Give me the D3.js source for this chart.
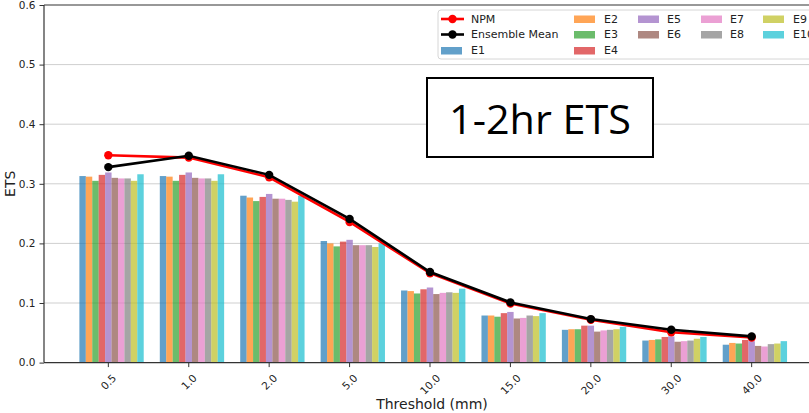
<!DOCTYPE html>
<html>
<head>
<meta charset="utf-8">
<script src="https://cdn.jsdelivr.net/npm/d3@7"></script>
<style>
  body { margin: 0; background: #fff; }
  svg { display: block; font-family: "DejaVu Sans", sans-serif; }
</style>
</head>
<body>
<div id="chart"></div>
<script>
// categories and series
var thresholds = ["0.5", "1.0", "2.0", "5.0", "10.0", "15.0", "20.0", "30.0", "40.0"];
var yTicks = [0.0, 0.1, 0.2, 0.3, 0.4, 0.5, 0.6];

var npm = [0.348, 0.344, 0.311, 0.236, 0.150, 0.099, 0.072, 0.051, 0.042];
var ensMean = [0.328, 0.347, 0.315, 0.241, 0.152, 0.101, 0.073, 0.055, 0.044];

var e1 = [0.313, 0.313, 0.280, 0.204, 0.121, 0.079, 0.055, 0.037, 0.030];
var e2 = [0.312, 0.312, 0.277, 0.200, 0.120, 0.079, 0.056, 0.038, 0.033];
var e3 = [0.305, 0.305, 0.271, 0.195, 0.116, 0.077, 0.056, 0.039, 0.032];
var e4 = [0.315, 0.315, 0.278, 0.203, 0.123, 0.083, 0.062, 0.043, 0.038];
var e5 = [0.319, 0.319, 0.283, 0.206, 0.126, 0.085, 0.062, 0.044, 0.036];
var e6 = [0.310, 0.310, 0.275, 0.197, 0.115, 0.074, 0.052, 0.035, 0.028];
var e7 = [0.309, 0.309, 0.275, 0.197, 0.117, 0.075, 0.054, 0.036, 0.027];
var e8 = [0.309, 0.309, 0.273, 0.197, 0.118, 0.079, 0.055, 0.037, 0.031];
var e9 = [0.305, 0.305, 0.270, 0.194, 0.117, 0.078, 0.056, 0.040, 0.032];
var e10 = [0.316, 0.316, 0.280, 0.200, 0.124, 0.083, 0.060, 0.043, 0.036];

var members = [e1, e2, e3, e4, e5, e6, e7, e8, e9, e10];
var memberNames = ["E1", "E2", "E3", "E4", "E5", "E6", "E7", "E8", "E9", "E10"];
var colors = d3.schemeCategory10;

var svgWidth = 809;
var svgHeight = 413;

var svg = d3.select("#chart")
  .append("svg")
  .attr("width", svgWidth)
  .attr("height", svgHeight);

// plot area edges (right edge runs past the picture, as in the reference)
var plotLeft = 44, plotRight = 816, plotTop = 5, plotBottom = 362.6;

var xScale = d3.scaleLinear().domain([-0.8, 8.8]).range([plotLeft, plotRight]);
var yScale = d3.scaleLinear().domain([0, 0.6]).range([plotBottom, plotTop]);
var barW = 0.08;

// gridlines
svg.append("g")
  .selectAll("line")
  .data(yTicks.slice(1, -1))
  .enter()
  .append("line")
  .attr("x1", plotLeft).attr("x2", plotRight)
  .attr("y1", d => yScale(d)).attr("y2", d => yScale(d))
  .attr("stroke", "#cfcfcf")
  .attr("stroke-width", 1);

// bars
members.forEach(function(series, m) {
  svg.append("g")
    .selectAll("rect")
    .data(series)
    .enter()
    .append("rect")
    .attr("x", (d, i) => xScale(i + (m - 4) * barW - barW / 2))
    .attr("width", xScale(barW) - xScale(0))
    .attr("y", d => yScale(d))
    .attr("height", d => yScale(0) - yScale(d))
    .attr("fill", colors[m])
    .attr("fill-opacity", 0.7);
});

// lines: NPM then Ensemble Mean on top
var line = d3.line().x((d, i) => xScale(i)).y(d => yScale(d));

[[npm, "#ff0000"], [ensMean, "#000000"]].forEach(function(s) {
  svg.append("path")
    .datum(s[0])
    .attr("d", line)
    .attr("fill", "none")
    .attr("stroke", s[1])
    .attr("stroke-width", 2.6);
  svg.append("g")
    .selectAll("circle")
    .data(s[0])
    .enter()
    .append("circle")
    .attr("cx", (d, i) => xScale(i))
    .attr("cy", d => yScale(d))
    .attr("r", 4.2)
    .attr("fill", s[1]);
});

// spines
var spine = "#333";
svg.append("line").attr("x1", plotLeft).attr("x2", plotRight).attr("y1", plotTop).attr("y2", plotTop)
  .attr("stroke", spine).attr("stroke-width", 1.2);
svg.append("line").attr("x1", plotLeft).attr("x2", plotRight).attr("y1", plotBottom).attr("y2", plotBottom)
  .attr("stroke", spine).attr("stroke-width", 1.2);
svg.append("line").attr("x1", plotLeft).attr("x2", plotLeft).attr("y1", plotTop).attr("y2", plotBottom)
  .attr("stroke", spine).attr("stroke-width", 1.2);

// y axis
var leftAxis = d3.axisLeft(yScale).tickValues(yTicks).tickFormat(d3.format(".1f")).tickSize(4.5).tickPadding(4);
var yAxisG = svg.append("g").attr("transform", `translate(${plotLeft},0)`).call(leftAxis);
yAxisG.select(".domain").remove();
yAxisG.selectAll("line").attr("stroke", spine);
yAxisG.selectAll("text").attr("font-size", 10.5).attr("fill", "#222").attr("font-family", "DejaVu Sans");

// x axis ticks with rotated labels
var xg = svg.append("g");
thresholds.forEach(function(t, i) {
  var x = xScale(i);
  xg.append("line").attr("x1", x).attr("x2", x).attr("y1", plotBottom).attr("y2", plotBottom + 4.5)
    .attr("stroke", spine);
  var txt = xg.append("text")
    .attr("font-size", 10.5)
    .attr("fill", "#222")
    .attr("text-anchor", "middle")
    .attr("dominant-baseline", "central")
    .text(t);
  var w = txt.node().getComputedTextLength();
  var cy = 372 + (w + 11) * Math.SQRT1_2 / 2;
  txt.attr("transform", `translate(${x},${cy}) rotate(-45)`);
});

// axis labels
svg.append("text")
  .attr("x", 432).attr("y", 409)
  .attr("text-anchor", "middle")
  .attr("font-size", 14)
  .attr("fill", "#222")
  .text("Threshold (mm)");

svg.append("text")
  .attr("transform", `translate(15,${(plotTop + plotBottom) / 2}) rotate(-90)`)
  .attr("text-anchor", "middle")
  .attr("font-size", 14)
  .attr("fill", "#222")
  .text("ETS");

// legend
var legend = svg.append("g");
legend.append("rect")
  .attr("x", 438).attr("y", 10).attr("width", 390).attr("height", 49)
  .attr("rx", 3)
  .attr("fill", "#fff").attr("fill-opacity", 0.85)
  .attr("stroke", "#d6d6d6");

var rowY = [19, 34.5, 50.5];
var legendItems = [
  { name: "NPM", type: "line", color: "#ff0000", hx: 441, tx: 471, row: 0 },
  { name: "Ensemble Mean", type: "line", color: "#000000", hx: 441, tx: 471, row: 1 }
];
var colX = [[441, 471], [574, 604], [638, 667], [701, 730], [763, 793]];
var slots = [[0, 2], [1, 0], [1, 1], [1, 2], [2, 0], [2, 1], [3, 0], [3, 1], [4, 0], [4, 1]];
memberNames.forEach(function(n, m) {
  legendItems.push({ name: n, type: "patch", color: colors[m],
    hx: colX[slots[m][0]][0], tx: colX[slots[m][0]][1], row: slots[m][1] });
});

legendItems.forEach(function(it) {
  var y = rowY[it.row];
  if (it.type === "line") {
    legend.append("line").attr("x1", it.hx).attr("x2", it.hx + 23).attr("y1", y).attr("y2", y)
      .attr("stroke", it.color).attr("stroke-width", 2.6);
    legend.append("circle").attr("cx", it.hx + 11.5).attr("cy", y).attr("r", 4.2).attr("fill", it.color);
  } else {
    legend.append("rect").attr("x", it.hx).attr("y", y - 3.5).attr("width", 21).attr("height", 7.5)
      .attr("fill", it.color).attr("fill-opacity", 0.7);
  }
  legend.append("text")
    .attr("x", it.tx).attr("y", y)
    .attr("dominant-baseline", "central")
    .attr("font-size", 11)
    .attr("fill", "#222")
    .text(it.name);
});

// annotation box
svg.append("rect")
  .attr("x", 427).attr("y", 78).attr("width", 226).attr("height", 79)
  .attr("fill", "#fff")
  .attr("stroke", "#000")
  .attr("stroke-width", 2);
svg.append("text")
  .attr("x", 540).attr("y", 118)
  .attr("text-anchor", "middle")
  .attr("dominant-baseline", "central")
  .attr("font-family", "'Open Sans', 'Liberation Sans', sans-serif")
  .attr("font-size", 40)
  .attr("textLength", 182)
  .attr("lengthAdjust", "spacingAndGlyphs")
  .attr("fill", "#000")
  .text("1-2hr ETS");
</script>
</body>
</html>
